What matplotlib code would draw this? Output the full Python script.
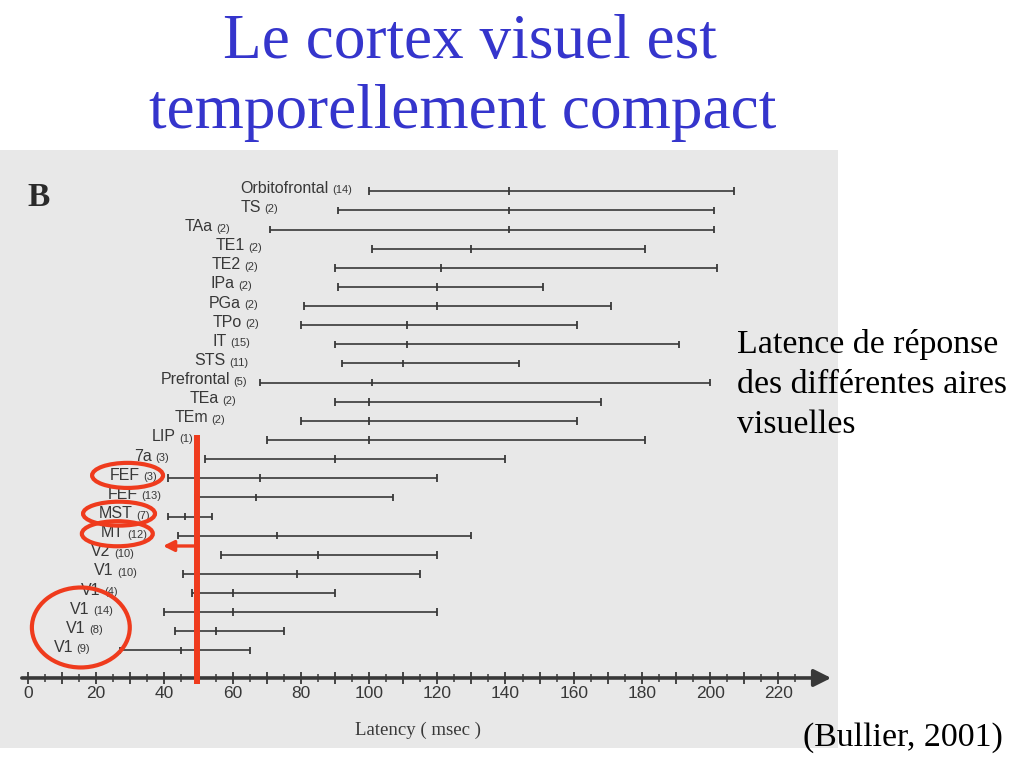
import numpy as np
import matplotlib
matplotlib.use("Agg")
import matplotlib.pyplot as plt
from matplotlib.patches import Ellipse
from matplotlib.ticker import FixedLocator, FuncFormatter

# ---- data (top to bottom as in the figure) ---------------------------------
areas = ["Orbitofrontal", "TS", "TAa", "TE1", "TE2", "IPa", "PGa", "TPo", "IT",
         "STS", "Prefrontal", "TEa", "TEm", "LIP", "7a", "FEF", "FEF", "MST",
         "MT", "V2", "V1", "V1", "V1", "V1", "V1"]
n_refs = [14, 2, 2, 2, 2, 2, 2, 2, 15, 11, 5, 2, 2, 1, 3, 3, 13, 7, 12, 10,
          10, 4, 14, 8, 9]
lat_min = [100, 91, 71, 101, 90, 91, 81, 80, 90, 92, 68, 90, 80, 70, 52, 41,
           49, 41, 44, 56.5, 45.5, 48, 40, 43, 27]
lat_med = [141, 141, 141, 130, 121, 120, 120, 111, 111, 110, 101, 100, 100,
           100, 90, 68, 67, 46, 73, 85, 79, 60, 60, 55, 45]
lat_max = [207, 201, 201, 181, 202, 151, 171, 161, 191, 144, 200, 168, 161,
           181, 140, 120, 107, 54, 130, 120, 115, 90, 120, 75, 65]

# where the staggered labels end (in msec, layout only)
label_end = [95.0, 73.3, 59.2, 68.6, 67.4, 65.7, 67.4, 67.7, 65.1, 64.5, 64.2,
             61.0, 57.8, 48.4, 41.3, 37.8, 39.0, 35.8, 34.9, 31.1, 32.0, 26.4,
             24.9, 22.0, 18.2]

ticks_lab = list(range(0, 221, 20))
red_ms = 49.5

ink = "#383838"
red = "#ef3b1d"
blue = "#3535cc"

fig = plt.figure(figsize=(10.24, 7.68), dpi=100)
fig.patch.set_facecolor("white")

ax = fig.add_axes([0.0, 1 - 748 / 768, 838 / 1024, (748 - 150) / 768])
ax.set_facecolor("#e8e8e8")
ax.set_xlim(-8.2, 237.5)
ax.set_ylim(-5.10, 26.16)

nrow = len(areas)
rows = np.arange(nrow)[::-1]   # top entry gets highest row

cap = 0.2
ax.hlines(rows, lat_min, lat_max, color=ink, lw=1.2)
ax.vlines(lat_min, rows - cap, rows + cap, color=ink, lw=1.3)
ax.vlines(lat_med, rows - cap, rows + cap, color=ink, lw=1.3)
ax.vlines(lat_max, rows - cap, rows + cap, color=ink, lw=1.3)

for r, name, n, xe in zip(rows, areas, n_refs, label_end):
    cnt = ax.text(xe, r + 0.05, "(%d)" % n, ha="right", va="center",
                  fontsize=8, color=ink, family="Liberation Sans")
    ax.annotate(name, xy=(0, 0.5), xycoords=cnt, xytext=(-2.5, 1.5),
                textcoords="offset points", ha="right", va="center",
                fontsize=11.5, color=ink, family="Liberation Sans")

# axis with arrow
axis_y = -1.44
for s in ["top", "right", "left", "bottom"]:
    ax.spines[s].set_visible(False)
ax.spines["bottom"].set_position(("data", axis_y))
ax.annotate("", xy=(235.5, axis_y), xytext=(-1.8, axis_y),
            arrowprops=dict(arrowstyle="-|>", lw=2.6, color=ink,
                            mutation_scale=26, shrinkA=0, shrinkB=0))
ax.xaxis.set_major_locator(FixedLocator(np.arange(0, 221, 10)))
ax.xaxis.set_minor_locator(FixedLocator(np.arange(5, 226, 10)))
ax.xaxis.set_major_formatter(FuncFormatter(
    lambda v, p: "%d" % v if v in ticks_lab else ""))
ax.tick_params(axis="x", which="major", direction="inout", length=8,
               width=1.3, color=ink, pad=2, labelsize=12.5, labelcolor=ink)
ax.tick_params(axis="x", which="minor", direction="inout", length=6,
               width=1.1, color=ink)
for t in ax.get_xticklabels():
    t.set_family("Liberation Sans")
ax.set_yticks([])

ax.text(114.4, -4.16, "Latency ( msec )", ha="center", va="center",
        fontsize=13.5, color=ink, family="Liberation Serif")

# red highlights
ax.vlines(red_ms, -1.75, 11.26, color=red, lw=4.3, zorder=5)
ax.annotate("", xy=(39.6, 5.46), xytext=(red_ms, 5.46),
            arrowprops=dict(arrowstyle="-|>", lw=2.4, color=red,
                            mutation_scale=16, shrinkA=0, shrinkB=0), zorder=5)
for cx, cy, w, h in [(29.2, 9.15, 20.8, 1.31), (26.7, 7.15, 21.1, 1.25),
                     (26.2, 6.1, 20.8, 1.31), (15.5, 1.2, 28.7, 4.18)]:
    ax.add_patch(Ellipse((cx, cy), w, h, fill=False, ec=red, lw=3.0, zorder=5))

# slide texts
fig.text(27 / 1024, 1 - 206 / 768, "B", fontsize=24, fontweight="bold",
         family="Liberation Serif", color="#2a2a2a", ha="left", va="baseline")
fig.text(470 / 1024, 1 - 58 / 768, "Le cortex visuel est", fontsize=45.5,
         family="Liberation Serif", color=blue, ha="center", va="baseline")
fig.text(463 / 1024, 1 - 128 / 768, "temporellement compact", fontsize=45.5,
         family="Liberation Serif", color=blue, ha="center", va="baseline")
for i, line in enumerate(["Latence de réponse", "des différentes aires",
                          "visuelles"]):
    fig.text(737 / 1024, 1 - (345 + 40 * i) / 768, line, fontsize=24.4,
             family="Liberation Serif", color="black", ha="left", va="center")
fig.text(1003 / 1024, 1 - 738 / 768, "(Bullier, 2001)", fontsize=24.4,
         family="Liberation Serif", color="black", ha="right", va="center")

fig.savefig("out.png", dpi=100)
